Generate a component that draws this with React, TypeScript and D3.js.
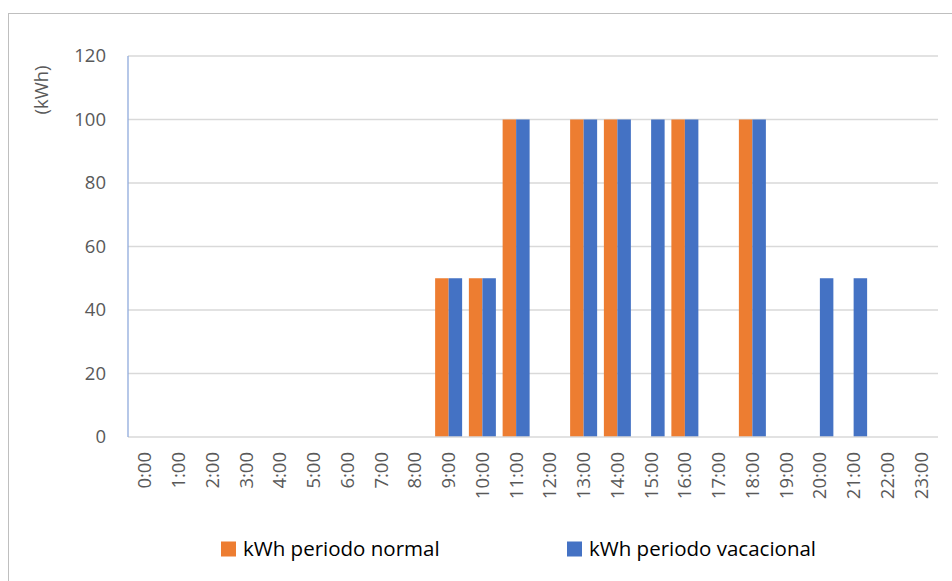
import React from "react";
import * as d3 from "d3";

const hours = ["0:00","1:00","2:00","3:00","4:00","5:00","6:00","7:00","8:00","9:00","10:00","11:00","12:00","13:00","14:00","15:00","16:00","17:00","18:00","19:00","20:00","21:00","22:00","23:00"];
const normal = [0,0,0,0,0,0,0,0,0,50,50,100,0,100,100,0,100,0,100,0,0,0,0,0];
const vacacional = [0,0,0,0,0,0,0,0,0,50,50,100,0,100,100,100,100,0,100,0,50,50,0,0];
const yTicks = [0,20,40,60,80,100,120];
const seriesNames = ["kWh periodo normal","kWh periodo vacacional"];
const colors = ["#ED7D31","#4472C4"];

const W = 952, H = 581;
const left = 128, right = 938, top = 56, bottom = 437;
const font = "'Open Sans', 'Liberation Sans', sans-serif";

export default function App() {
  const x = d3.scaleBand<string>().domain(hours).range([left, right]).paddingInner(0.2).paddingOuter(0.1);
  const xc = d3.scaleBand<string>().domain(hours).range([left, right]);
  const xs = d3.scaleBand<string>().domain(["n","v"]).range([0, x.bandwidth()]);
  const y = d3.scaleLinear().domain([0,120]).range([bottom, top]);
  const series = [normal, vacacional];
  return (
    <svg width={W} height={H} style={{position:"absolute",left:0,top:0}}>
      <rect x={0} y={0} width={W} height={H} fill="#fff" />
      <rect x={8.5} y={13.5} width={W + 20} height={H + 20} fill="#fff" stroke="#bfbfbf" />
      {yTicks.map(t => (
        <g key={t}>
          {t > 0 && <line x1={left} x2={right} y1={y(t)} y2={y(t)} stroke="#d9d9d9" strokeWidth={1.3} />}
          <text x={106} y={y(t)} dy="0.35em" textAnchor="end" fontFamily={font} fontSize={18.5} fill="#595959">{t}</text>
        </g>
      ))}
      {series.map((s, si) => s.map((v, i) => v > 0 ? (
        <rect key={si + "-" + i} x={(x(hours[i]) as number) + (xs(si === 0 ? "n" : "v") as number)} y={y(v)} width={xs.bandwidth()} height={y(0) - y(v)} fill={colors[si]} />
      ) : null))}
      <line x1={left} x2={right} y1={bottom} y2={bottom} stroke="#d9d9d9" strokeWidth={1.3} />
      <line x1={left} x2={left} y1={top} y2={bottom} stroke="#8FAADC" strokeWidth={1.3} />
      {hours.map(h => (
        <text key={h} transform={`translate(${(xc(h) as number) + xc.bandwidth() / 2},452) rotate(-90)`} dy="0.35em" textAnchor="end" fontFamily={font} fontSize={18.5} fill="#595959">{h}</text>
      ))}
      <text transform={`translate(42,90) rotate(-90)`} dy="0.35em" textAnchor="middle" fontFamily={font} fontSize={18.5} fill="#595959">(kWh)</text>
      {seriesNames.map((n, i) => (
        <g key={n} transform={`translate(${i === 0 ? 221 : 567},549)`}>
          <rect x={0} y={-7.5} width={15} height={15} fill={colors[i]} />
          <text x={22} y={0} dy="0.35em" fontFamily={font} fontSize={20.5} fill="#000">{n}</text>
        </g>
      ))}
    </svg>
  );
}
